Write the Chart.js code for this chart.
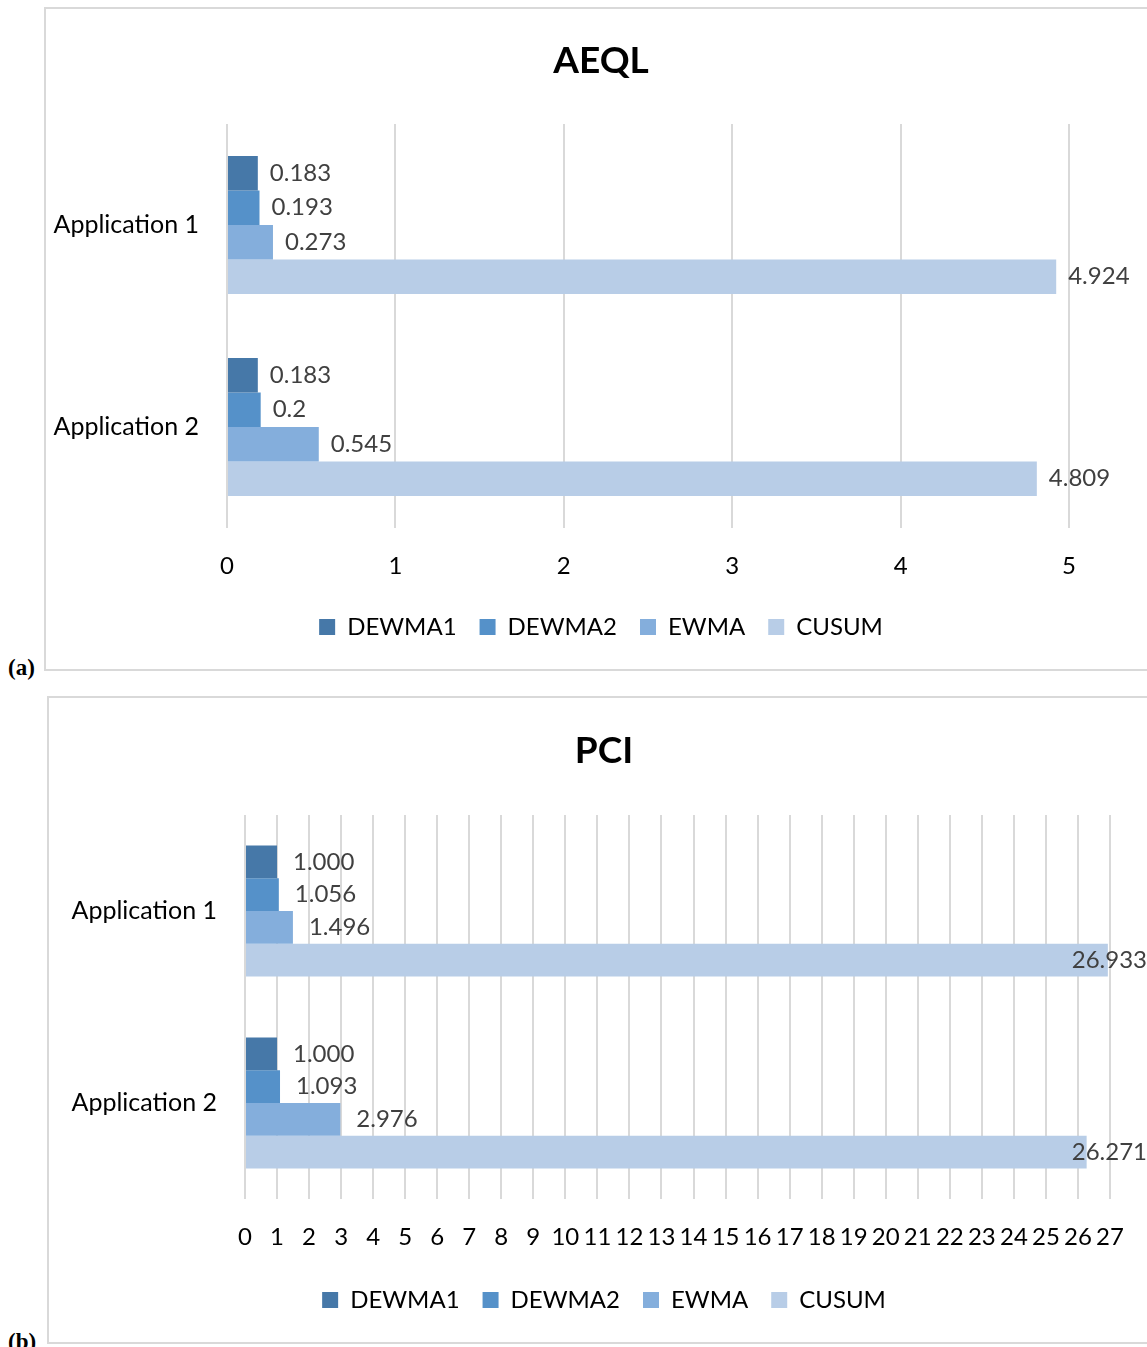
<!DOCTYPE html>
<html>
<head>
<meta charset="utf-8">
<title>AEQL and PCI</title>
<script src="https://cdn.jsdelivr.net/npm/chart.js@4/dist/chart.umd.min.js"></script>
<style>
  html, body { margin: 0; padding: 0; overflow: hidden; background: #ffffff; }
  body { width: 1147px; height: 1347px; position: relative; }
  .panel { position: absolute; box-sizing: border-box; border: 2px solid #d9d9d9; background: #fff; }
  .panel canvas { display: block; }
  #panelA { left: 44px; top: 7px; width: 1114px; height: 664px; }
  #panelB { left: 47px; top: 696px; width: 1114px; height: 648px; }
  .tag { position: absolute; left: 8px; font: bold 23px "Liberation Serif", "Times New Roman", serif; line-height: 23px; color: #000; }
  #tagA { top: 656px; }
  #tagB { top: 1330px; }
</style>
</head>
<body>
<div class="panel" id="panelA"><canvas id="chartA" width="1110" height="660"></canvas></div>
<div class="tag" id="tagA">(a)</div>
<div class="panel" id="panelB"><canvas id="chartB" width="1110" height="644"></canvas></div>
<div class="tag" id="tagB">(b)</div>

<script>
// Categories and series
const categories = ['Application 1', 'Application 2'];
const seriesNames = ['DEWMA1', 'DEWMA2', 'EWMA', 'CUSUM'];
const seriesColors = ['#4678A8', '#5591C9', '#84AEDC', '#B8CDE7'];

// AEQL values per method
const aeqlDEWMA1 = [0.183, 0.183];
const aeqlDEWMA2 = [0.193, 0.2];
const aeqlEWMA   = [0.273, 0.545];
const aeqlCUSUM  = [4.924, 4.809];

// PCI values per method
const pciDEWMA1 = [1.000, 1.000];
const pciDEWMA2 = [1.056, 1.093];
const pciEWMA   = [1.496, 2.976];
const pciCUSUM  = [26.933, 26.271];

// Value axis ranges
const aeqlAxisMax = 5;
const pciAxisMax = 27;

Chart.defaults.font.family = 'Lato, "Open Sans", sans-serif';
Chart.defaults.color = '#000000';

// Writes each bar's value just past its end, kept inside the canvas
const barValueLabels = {
  id: 'barValueLabels',
  afterDatasetsDraw(chart, args, opts) {
    const ctx = chart.ctx;
    ctx.save();
    ctx.font = opts.font;
    ctx.fillStyle = opts.color;
    ctx.textAlign = 'left';
    ctx.textBaseline = 'middle';
    const limit = chart.width - opts.rightLimit;
    chart.data.datasets.forEach((ds, di) => {
      const meta = chart.getDatasetMeta(di);
      meta.data.forEach((bar, i) => {
        const text = opts.format(ds.data[i]);
        const w = ctx.measureText(text).width;
        let x = bar.x + opts.offset;
        if (x + w > limit) x = limit - w;
        ctx.fillText(text, x, bar.y);
      });
    });
    ctx.restore();
  }
};

function buildDatasets(values) {
  return values.map((vals, k) => ({
    label: seriesNames[k],
    data: vals,
    backgroundColor: seriesColors[k],
    borderWidth: 0,
    barPercentage: 1.0,
    categoryPercentage: 0.683
  }));
}

function makeChart(canvasId, cfg) {
  return new Chart(document.getElementById(canvasId), {
    type: 'bar',
    data: { labels: categories, datasets: buildDatasets(cfg.values) },
    plugins: [barValueLabels],
    options: {
      indexAxis: 'y',
      responsive: false,
      animation: false,
      devicePixelRatio: 1,
      layout: { padding: { top: 0, left: 0, right: 0, bottom: cfg.bottomPad } },
      scales: {
        x: {
          type: 'linear',
          min: 0,
          max: cfg.axisMax,
          grid: { color: '#d9d9d9', lineWidth: 2, drawTicks: false },
          border: { display: false },
          ticks: {
            stepSize: 1,
            autoSkip: false,
            maxRotation: 0,
            minRotation: 0,
            padding: 24,
            color: '#000000',
            font: { size: 24 }
          },
          afterFit(s) { s.height = cfg.xAxisHeight; }
        },
        y: {
          grid: { display: false, drawTicks: false },
          border: { display: false },
          ticks: { padding: 28, color: '#000000', font: { size: 25 } },
          afterFit(s) { s.width = cfg.yAxisWidth; }
        },
        rightGap: {
          type: 'linear',
          position: 'right',
          grid: { display: false, drawTicks: false },
          border: { display: false },
          ticks: { display: false },
          afterFit(s) { s.width = cfg.rightGap; }
        }
      },
      plugins: {
        title: {
          display: true,
          text: cfg.title,
          color: '#000000',
          font: { size: 37, weight: 'bold', lineHeight: 1.2 },
          padding: { top: cfg.titleTop, bottom: cfg.titleBottom }
        },
        legend: {
          position: 'bottom',
          labels: {
            boxWidth: 16,
            boxHeight: 16,
            padding: 23,
            color: '#000000',
            font: { size: 24 }
          }
        },
        tooltip: { enabled: false },
        barValueLabels: {
          font: '24px Lato, "Open Sans", sans-serif',
          color: '#404040',
          offset: cfg.labelOffset,
          rightLimit: 12,
          format: cfg.format
        }
      }
    }
  });
}

// (a) AEQL
makeChart('chartA', {
  title: 'AEQL',
  values: [aeqlDEWMA1, aeqlDEWMA2, aeqlEWMA, aeqlCUSUM],
  axisMax: aeqlAxisMax,
  yAxisWidth: 181,
  rightGap: 87,
  xAxisHeight: 64,
  bottomPad: 20,
  titleTop: 30,
  titleBottom: 40.6,
  labelOffset: 12,
  format: v => String(v)
});

// (b) PCI
makeChart('chartB', {
  title: 'PCI',
  values: [pciDEWMA1, pciDEWMA2, pciEWMA, pciCUSUM],
  axisMax: pciAxisMax,
  yAxisWidth: 196,
  rightGap: 49,
  xAxisHeight: 66,
  bottomPad: 20,
  titleTop: 31,
  titleBottom: 41.6,
  labelOffset: 16,
  format: v => v.toFixed(3)
});
</script>
</body>
</html>
